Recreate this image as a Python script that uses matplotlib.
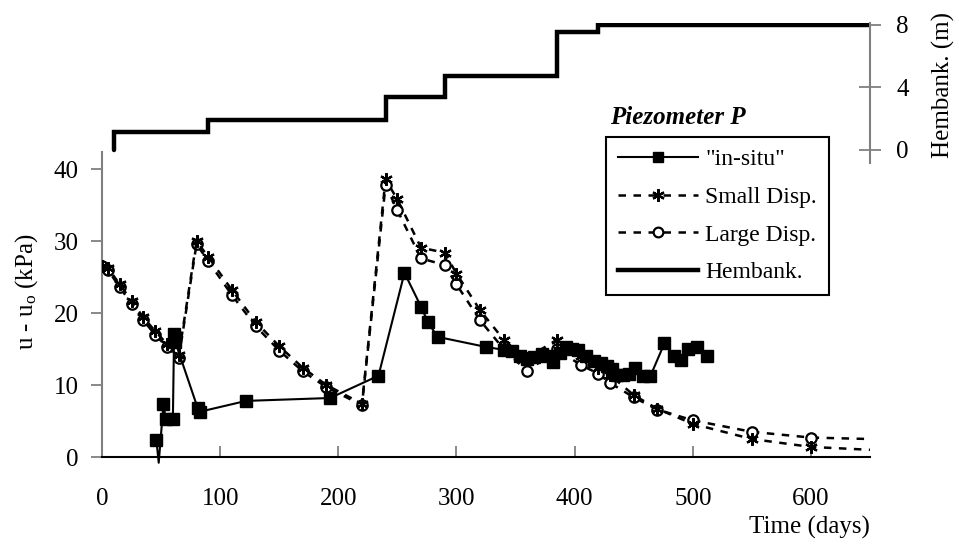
import matplotlib
matplotlib.use("Agg")
import matplotlib.pyplot as plt
from matplotlib.lines import Line2D

plt.rcParams["font.family"] = "Liberation Serif"
plt.rcParams["mathtext.fontset"] = "custom"
plt.rcParams["mathtext.rm"] = "Liberation Serif"
plt.rcParams["mathtext.it"] = "Liberation Serif:italic"

# ---- data -------------------------------------------------------------
# measured excess pore pressure (kPa); the dip below zero is clipped at the axis
insitu_days = [46, 48, 52, 54, 60, 61, 62, 81, 83, 122, 193, 234, 256, 270,
               276, 284, 325, 340, 347, 354, 360, 366, 372, 377, 382, 388,
               393, 398, 403, 410, 416, 422, 427, 432, 436, 441, 446, 451,
               458, 464, 476, 484, 490, 496, 504, 512]
insitu_kpa = [2.4, -0.8, 7.3, 5.3, 5.3, 17.1, 16.0, 6.8, 6.3, 7.8, 8.2, 11.3,
              25.6, 20.9, 18.7, 16.7, 15.3, 14.9, 14.8, 14.0, 13.6, 13.9,
              14.3, 14.0, 13.2, 14.5, 15.3, 15.0, 14.9, 14.0, 13.3, 13.0,
              12.7, 12.2, 11.4, 11.4, 11.5, 12.4, 11.2, 11.2, 15.8, 14.1,
              13.5, 15.0, 15.3, 14.0]

# computed pore pressures
calc_days = [0, 5, 15, 25, 35, 45, 55, 65, 80, 90, 110, 130, 150, 170, 190,
             220, 240, 250, 270, 290, 300, 320, 340, 360, 385, 405, 420, 430,
             450, 470, 500, 550, 600, 650]
small_kpa = [26.6, 26.3, 24.0, 21.7, 19.4, 17.5, 15.7, 14.2, 30.0, 27.8,
             23.2, 18.8, 15.4, 12.4, 10.0, 7.4, 38.6, 35.8, 29.1, 28.4, 25.5,
             20.4, 16.3, 13.8, 16.3, 14.0, 12.4, 11.4, 8.6, 6.7, 4.6, 2.5,
             1.4, 1.0]
large_kpa = [26.6, 26.0, 23.6, 21.3, 19.0, 17.0, 15.3, 13.8, 29.6, 27.2,
             22.5, 18.2, 14.8, 11.9, 9.7, 7.2, 37.8, 34.3, 27.6, 26.7, 24.0,
             19.0, 15.0, 11.9, 15.0, 12.8, 11.6, 10.3, 8.3, 6.6, 5.1, 3.5,
             2.7, 2.5]

# embankment height (m), stepwise construction
emb_days = [10, 10, 90, 90, 240, 240, 290, 290, 385, 385, 420, 420, 650]
emb_h = [0.0, 1.1, 1.1, 1.9, 1.9, 3.4, 3.4, 4.7, 4.7, 7.5, 7.5, 8.0, 8.0]

x_ticks = [0, 100, 200, 300, 400, 500, 600]
y_ticks = [0, 10, 20, 30, 40]
h_ticks = [0, 4, 8]

# ---- layout -----------------------------------------------------------
W, H = 959, 544
fig = plt.figure(figsize=(W / 100, H / 100), dpi=100)


def box(l, t, r, b):
    return [l / W, 1 - b / H, (r - l) / W, (b - t) / H]


GRAY = "#808080"
FS = 18

ax = fig.add_axes(box(102, 152, 870, 457))
axh = fig.add_axes(box(102, 23, 870, 163))
axh.patch.set_alpha(0)

# ---- pore pressure panel ----------------------------------------------
ax.plot(calc_days, large_kpa, color="black", lw=1.8, ls=(0, (3, 3)),
        marker="o", ms=7.5, mfc="white", mec="black", mew=1.6,
        markevery=list(range(len(calc_days) - 1)), zorder=3)
ax.plot(calc_days, small_kpa, color="black", lw=1.8, ls=(0, (3, 3)),
        marker=(6, 2, 0), ms=9, mec="black", mew=1.6,
        markevery=list(range(len(calc_days) - 1)), zorder=4)
marks = [i for i in range(len(insitu_days)) if insitu_kpa[i] >= 0]
ax.plot(insitu_days, insitu_kpa, color="black", lw=1.5, marker="s", ms=8.5,
        mfc="black", mec="black", markevery=marks, clip_on=False, zorder=5)

ax.set_xlim(0, 650)
ax.set_ylim(0, 42.4)
ax.set_xticks(x_ticks)
ax.set_yticks(y_ticks)
for s in ("top", "right"):
    ax.spines[s].set_visible(False)
ax.spines["left"].set_color(GRAY)
ax.spines["left"].set_linewidth(1.5)
ax.spines["bottom"].set_color("black")
ax.spines["bottom"].set_linewidth(1.5)
ax.tick_params(axis="y", direction="out", length=8, width=1.3, color=GRAY,
               labelsize=FS, pad=9)
ax.tick_params(axis="x", direction="in", length=8, width=1.3, color=GRAY,
               labelsize=FS, pad=22)

# ---- embankment panel -------------------------------------------------
axh.plot(emb_days, emb_h, color="black", lw=3.2, solid_capstyle="round",
         solid_joinstyle="miter")
axh.set_xlim(0, 650)
axh.set_ylim(-0.85, 8.1)
axh.set_xticks([])
axh.set_yticks(h_ticks)
for s in ("top", "left", "bottom"):
    axh.spines[s].set_visible(False)
axh.spines["right"].set_color(GRAY)
axh.spines["right"].set_linewidth(1.5)
axh.yaxis.tick_right()
axh.tick_params(axis="y", direction="inout", length=16, width=1.3,
                color=GRAY, labelsize=FS, pad=11)

# ---- labels -----------------------------------------------------------
fig.text(27 / W, 1 - 292 / H, r"u - u$_\mathrm{o}$ (kPa)", rotation=90,
         ha="center", va="center", fontsize=FS)
fig.text(943 / W, 1 - 85 / H, "Hembank. (m)", rotation=90,
         ha="center", va="center", fontsize=FS)
fig.text(870 / W, 1 - 527 / H, "Time (days)", ha="right", va="center",
         fontsize=FS)
fig.text(610 / W, 1 - 117 / H, "Piezometer P", ha="left", va="center",
         fontsize=FS, fontweight="bold", fontstyle="italic")

handles = [
    Line2D([], [], color="black", lw=1.5, marker="s", ms=7, mfc="black"),
    Line2D([], [], color="black", lw=1.8, ls=(0, (3, 3)), marker=(6, 2, 0),
           ms=9, mew=1.6),
    Line2D([], [], color="black", lw=1.8, ls=(0, (3, 3)), marker="o", ms=7,
           mfc="white", mew=1.6),
    Line2D([], [], color="black", lw=3.2),
]
labels = ['"in-situ"', "Small Disp.", "Large Disp.", "Hembank."]
leg = fig.legend(handles, labels, loc="upper left",
                 bbox_to_anchor=(606 / W, 1 - 137 / H), frameon=True,
                 fancybox=False, shadow=False, framealpha=1, fontsize=17,
                 handlelength=3.4, handletextpad=0.3, labelspacing=0.68,
                 borderpad=0.5, borderaxespad=0)
leg.get_frame().set_edgecolor("black")
leg.get_frame().set_linewidth(1.5)

fig.savefig("out.png", dpi=100)
